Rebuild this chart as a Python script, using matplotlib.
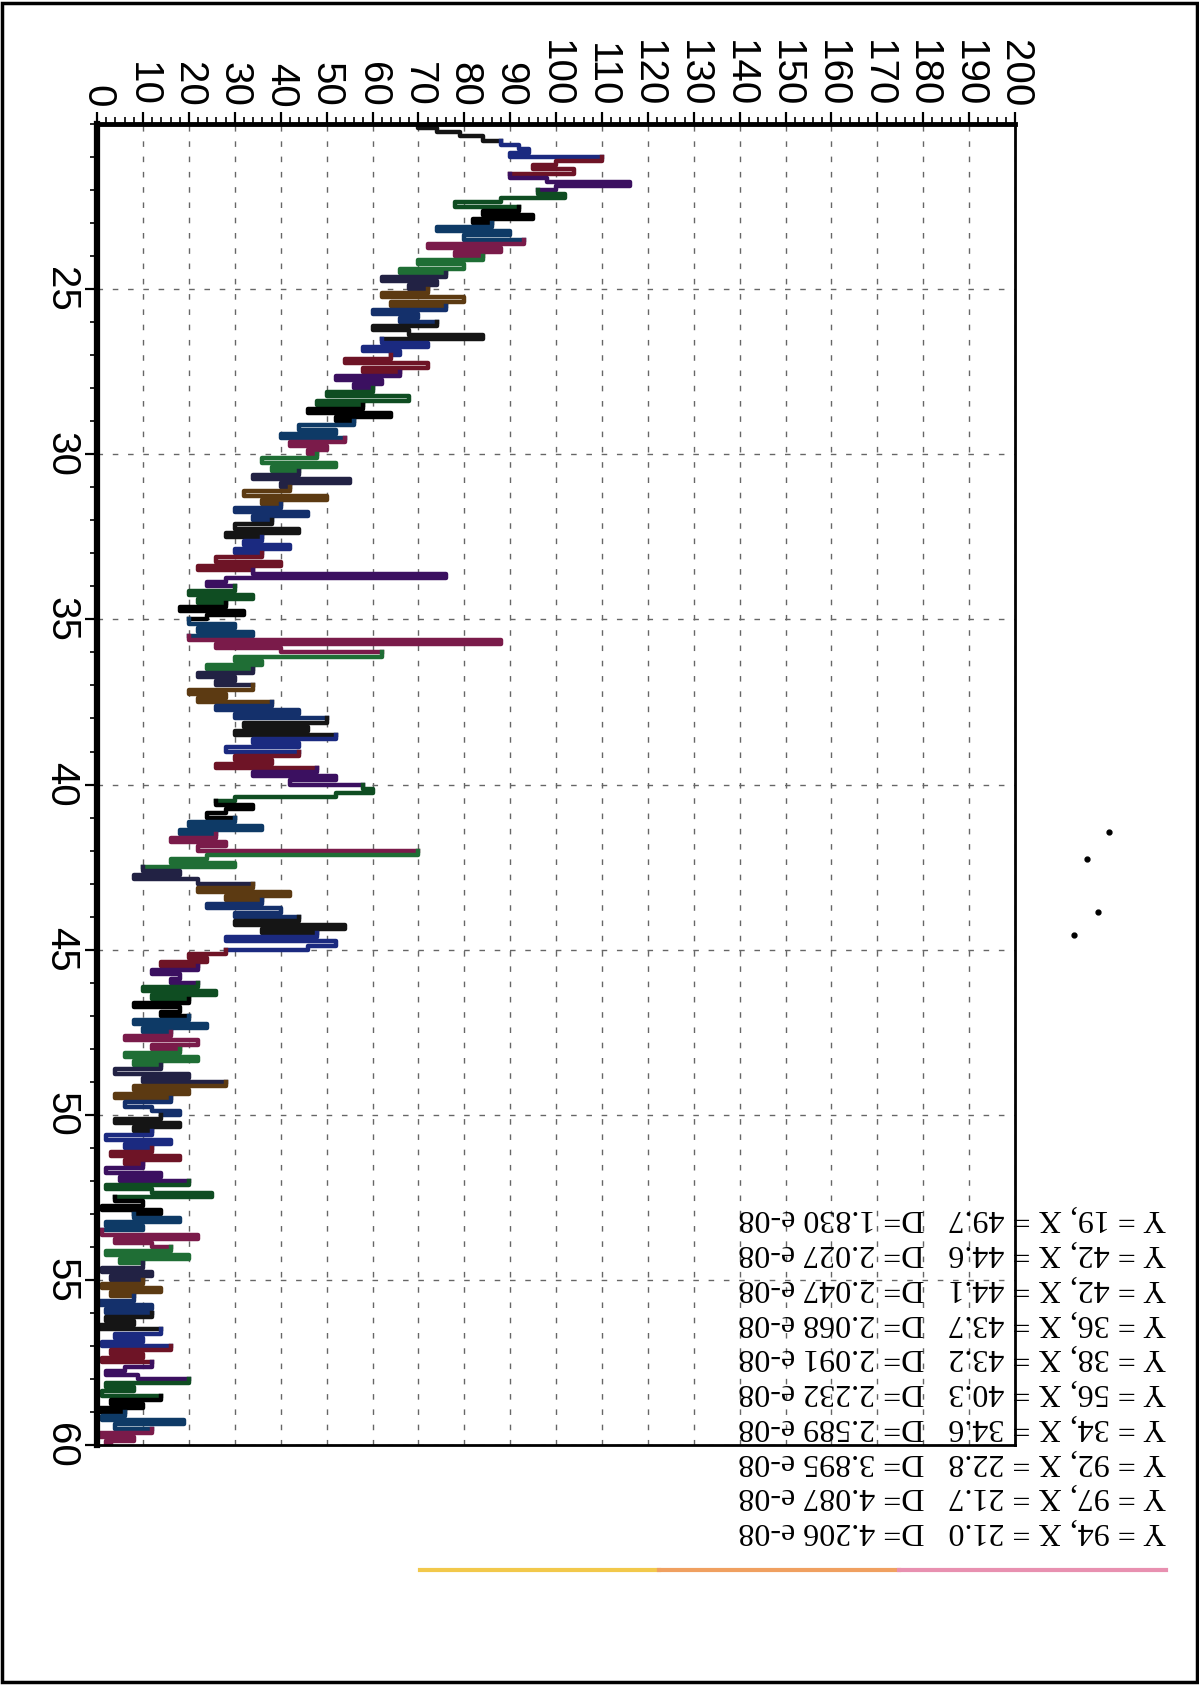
import numpy as np
import matplotlib
matplotlib.use('Agg')
import matplotlib.pyplot as plt
from matplotlib.lines import Line2D
from matplotlib.patches import Rectangle

# scanned trace: sample spacing along X
x_start = 20.0
x_step = 0.125
signal = [
    70, 74, 79, 84, 88, 92, 94, 90,
    110, 100, 95, 104, 90, 98, 116, 100,
    96, 102, 88, 78, 92, 84, 95, 82,
    86, 74, 90, 80, 93, 72, 88, 78,
    84, 70, 80, 66, 76, 62, 74, 68,
    72, 62, 80, 64, 76, 60, 70, 66,
    74, 60, 68, 84, 62, 72, 58, 66,
    64, 54, 72, 58, 66, 52, 62, 56,
    60, 50, 68, 48, 58, 46, 64, 52,
    56, 44, 52, 40, 54, 42, 50, 46,
    48, 36, 52, 38, 44, 34, 55, 40,
    42, 32, 50, 36, 40, 30, 46, 34,
    38, 30, 44, 28, 36, 32, 42, 30,
    36, 26, 40, 22, 34, 76, 28, 24,
    30, 20, 34, 22, 28, 18, 32, 24,
    20, 30, 22, 34, 20, 88, 26, 40,
    62, 30, 36, 24, 34, 22, 30, 26,
    34, 20, 28, 22, 38, 26, 44, 30,
    50, 32, 46, 30, 52, 34, 44, 28,
    44, 30, 38, 26, 48, 34, 52, 42,
    58, 60, 52, 30, 26, 34, 28, 24,
    30, 20, 36, 18, 26, 16, 28, 22,
    70, 24, 16, 30, 10, 18, 8, 22,
    34, 22, 42, 28, 36, 24, 40, 30,
    44, 30, 54, 36, 48, 28, 52, 46,
    28, 20, 24, 14, 22, 12, 18, 16,
    22, 10, 26, 12, 20, 8, 18, 14,
    20, 8, 24, 10, 16, 6, 22, 12,
    18, 6, 22, 8, 14, 4, 20, 10,
    28, 8, 20, 4, 16, 6, 12, 18,
    14, 4, 18, 8, 12, 2, 16, 6,
    12, 3, 18, 6, 10, 2, 14, 5,
    20, 2, 12, 25, 4, 10, 1, 14,
    8, 18, 2, 10, 1, 22, 4, 12,
    16, 2, 20, 5, 10, 1, 12, 3,
    10, 1, 14, 3, 8, 0, 12, 2,
    12, 2, 8, 0, 14, 4, 10, 1,
    16, 3, 10, 1, 12, 6, 2, 9,
    20, 2, 8, 1, 14, 3, 10, 0,
    6, 1, 19, 4, 12, 0, 8, 2, 3,
]

value_ticks = list(range(0, 201, 10))
x_ticks = [25, 30, 35, 40, 45, 50, 55, 60]

fit_lines = [
    "Y = 94, X = 21.0   D= 4.206 e-08",
    "Y = 97, X = 21.7   D= 4.087 e-08",
    "Y = 92, X = 22.8   D= 3.895 e-08",
    "Y = 34, X = 34.6   D= 2.589 e-08",
    "Y = 56, X = 40.3   D= 2.232 e-08",
    "Y = 38, X = 43.2   D= 2.091 e-08",
    "Y = 36, X = 43.7   D= 2.068 e-08",
    "Y = 42, X = 44.1   D= 2.047 e-08",
    "Y = 42, X = 44.6   D= 2.027 e-08",
    "Y = 19, X = 49.7   D= 1.830 e-08",
]

trace_colors = ['#151515', '#1b2a80', '#6e1426', '#3b1060', '#0f4d22',
                '#000000', '#0e3a66', '#7a1b4a', '#1f6e35', '#222244',
                '#5c3a12', '#14306b']

pos = x_start + x_step * np.arange(len(signal))

fig = plt.figure(figsize=(11.99, 16.85), dpi=100)
ax = fig.add_axes([0.081, 0.1424, 0.7656, 0.784])

# drawn rotated: value runs left->right, X runs top->bottom
for k, i in enumerate(range(0, len(signal) - 1, 4)):
    ax.plot(signal[i:i + 5], pos[i:i + 5], drawstyle='steps-pre',
            color=trace_colors[k % len(trace_colors)], lw=3.2)

ax.set_xlim(0, 200)
ax.set_ylim(60, 20)
ax.xaxis.tick_top()
ax.set_xticks(value_ticks)
ax.set_xticks(np.arange(0, 201, 2), minor=True)
ax.set_xticklabels([str(v) for v in value_ticks], rotation=-90,
                   fontsize=29, family='Liberation Sans')
ax.set_yticks(x_ticks)
ax.set_yticks(np.arange(20, 61, 1), minor=True)
ax.set_yticklabels([str(v) for v in x_ticks], rotation=-90, va='center',
                   fontsize=29, family='Liberation Sans')
ax.tick_params(which='major', length=9, width=1.6, pad=3)
ax.tick_params(which='minor', length=5, width=1.2)
ax.grid(True, which='major', ls=(0, (4, 7)), color='0.4', lw=1.0)

for side, w in [('left', 4.5), ('top', 3.5), ('right', 2), ('bottom', 2)]:
    ax.spines[side].set_linewidth(w)

fig.text(0.9725, 0.083, "\n".join(fit_lines), rotation=180, ha='right',
         va='bottom', fontsize=23, family='Liberation Serif',
         linespacing=1.26, multialignment='left')

# coloured rule under the text block and stray dots of the scan
fig.add_artist(Line2D([0.35, 0.55], [0.068, 0.068], color='#f2c84b', lw=3))
fig.add_artist(Line2D([0.55, 0.75], [0.068, 0.068], color='#f0a060', lw=3))
fig.add_artist(Line2D([0.75, 0.9725], [0.068, 0.068], color='#e890b0', lw=3))
fig.add_artist(Line2D([0.925, 0.907, 0.916, 0.896], [0.506, 0.490, 0.459, 0.445],
                      ls='none', marker='o', ms=3.5, color='black'))

fig.add_artist(Rectangle((0.002, 0.002), 0.996, 0.996, fill=False,
                         lw=2.5, ec='black', transform=fig.transFigure))

fig.savefig('out.png', dpi=100, facecolor='white')
